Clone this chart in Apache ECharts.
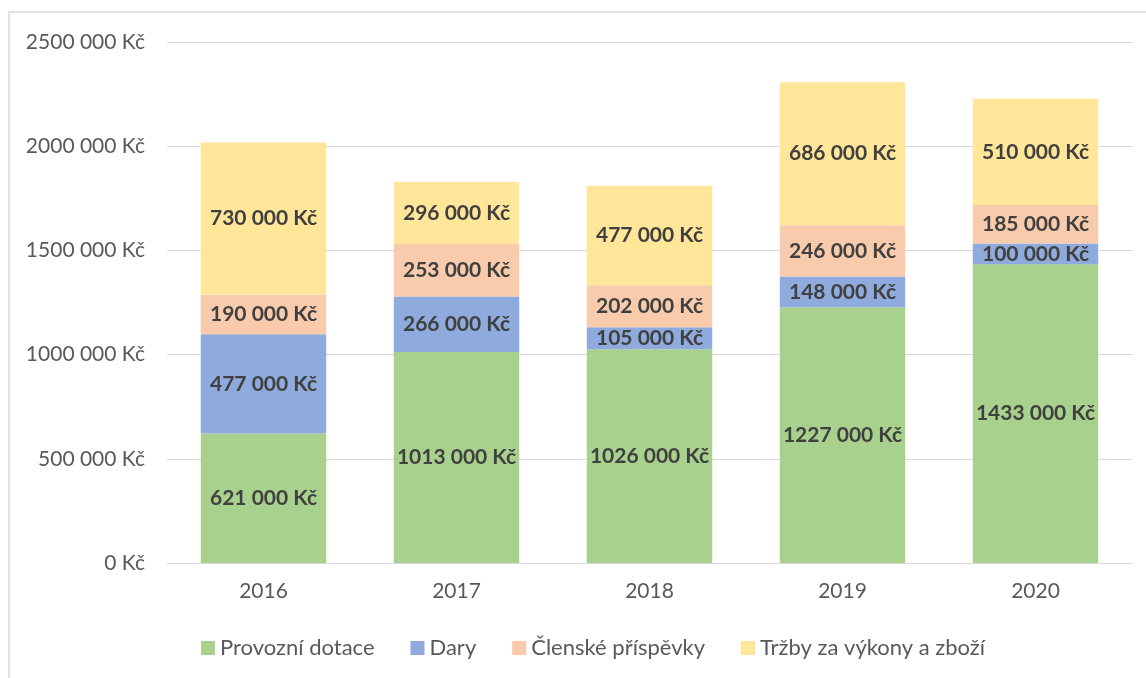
<!DOCTYPE html>
<html>
<head>
<meta charset="utf-8">
<script src="https://cdn.jsdelivr.net/npm/echarts@6/dist/echarts.min.js"></script>
<style>
  html, body { margin: 0; padding: 0; background: #fff; }
  #chart { width: 1146px; height: 678px; }
</style>
</head>
<body>
<div id="chart"></div>
<script>
  const years = ['2016', '2017', '2018', '2019', '2020'];
  const provozniDotace = [621000, 1013000, 1026000, 1227000, 1433000];
  const dary = [477000, 266000, 105000, 148000, 100000];
  const clenskePrispevky = [190000, 253000, 202000, 246000, 185000];
  const trzby = [730000, 296000, 477000, 686000, 510000];
  const yTicks = [0, 500000, 1000000, 1500000, 2000000, 2500000];

  // Czech style like Excel: "2500 000 Kč", "0 Kč"
  function kc(v) {
    if (v === 0) return '0 Kč';
    return Math.round(v / 1000) + ' 000 Kč';
  }

  const font = 'Lato, "Open Sans", sans-serif';
  let myChart = echarts.init(document.getElementById('chart'));

  function mkSeries(name, data, color) {
    return {
      name: name,
      type: 'bar',
      stack: 'total',
      barWidth: '65%',
      data: data,
      itemStyle: { color: color },
      label: {
        show: true,
        position: 'inside',
        formatter: p => kc(p.value),
        color: '#404040',
        fontWeight: 'bold',
        fontSize: 21,
        fontFamily: font
      }
    };
  }

  let option = {
    animation: false,
    textStyle: { fontFamily: font },
    graphic: [{
      type: 'rect',
      shape: { x: 9, y: 12, width: 1160, height: 700 },
      style: { fill: 'none', stroke: '#d9d9d9', lineWidth: 1.5 },
      silent: true
    }],
    grid: { left: 167, right: 14, top: 42, bottom: 115 },
    legend: {
      top: 632,
      left: 196,
      icon: 'rect',
      itemWidth: 14,
      itemHeight: 14,
      itemGap: 36,
      textStyle: { color: '#595959', fontSize: 22, fontFamily: font },
      data: ['Provozní dotace', 'Dary', 'Členské příspěvky', 'Tržby za výkony a zboží']
    },
    xAxis: {
      type: 'category',
      data: years,
      axisTick: { show: false },
      axisLine: { lineStyle: { color: '#d9d9d9', width: 1 } },
      axisLabel: { color: '#595959', fontSize: 21, margin: 18, fontFamily: font }
    },
    yAxis: {
      type: 'value',
      min: yTicks[0],
      max: yTicks[yTicks.length - 1],
      interval: 500000,
      axisLine: { show: false },
      axisTick: { show: false },
      splitLine: { lineStyle: { color: '#d9d9d9', width: 1 } },
      axisLabel: {
        color: '#595959', fontSize: 21, margin: 22, fontFamily: font,
        formatter: v => kc(v)
      }
    },
    series: [
      mkSeries('Provozní dotace', provozniDotace, '#a9d18e'),
      mkSeries('Dary', dary, '#8faadc'),
      mkSeries('Členské příspěvky', clenskePrispevky, '#f8cbad'),
      mkSeries('Tržby za výkony a zboží', trzby, '#ffe699')
    ]
  };
  myChart.setOption(option);
</script>
</body>
</html>
